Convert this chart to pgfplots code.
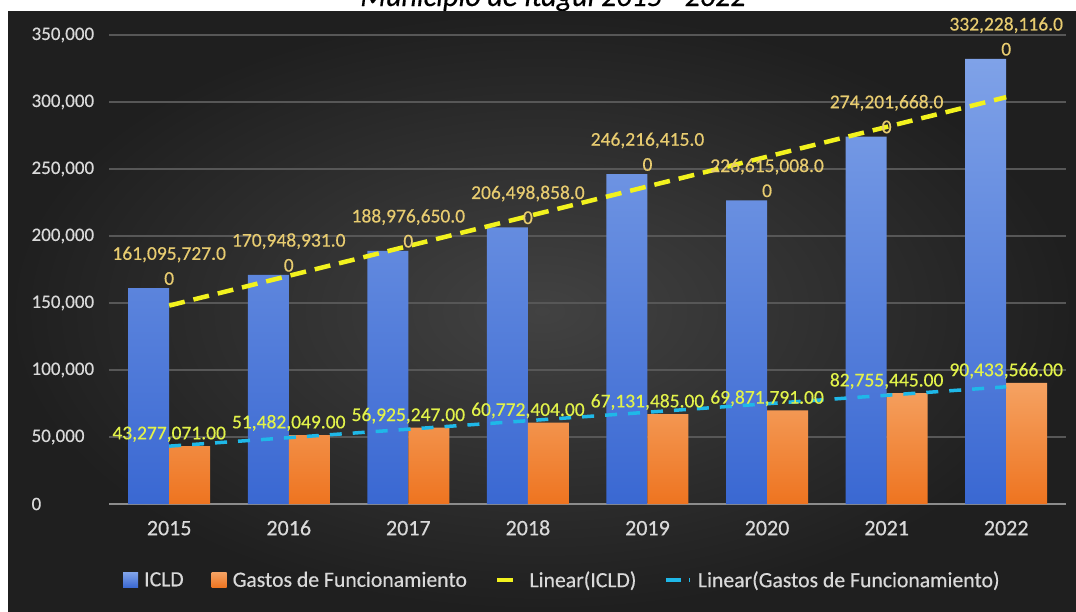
\documentclass[border=0pt]{standalone}
\usepackage{pgfplots}
\pgfplotsset{compat=1.18}
\usepackage{pgfplotstable}
\usepackage{fontspec}
\setmainfont{Carlito}[FakeBold=0.4]

\definecolor{bgin}{HTML}{424242}
\definecolor{bgout}{HTML}{1F1F1F}
\definecolor{bluetop}{HTML}{7FA2E8}
\definecolor{bluebot}{HTML}{3A68D2}
\definecolor{ortop}{HTML}{F5A262}
\definecolor{orbot}{HTML}{EE7420}
\definecolor{labgold}{HTML}{E8CC70}
\definecolor{labgreen}{HTML}{E2F24A}
\definecolor{trendy}{HTML}{F2F21E}
\definecolor{trendc}{HTML}{1FB8E8}
\definecolor{tickc}{HTML}{D9D9D9}
\definecolor{gridc}{HTML}{575757}
\definecolor{axisc}{HTML}{8C8C8C}

\pgfplotsset{
  sqlegend/.style={legend image code/.code={\path[##1] (0pt,-7.5pt) rectangle (15pt,7.5pt);}},
  lnlegend/.style={legend image code/.code={\draw[##1, solid] (0pt,0pt) -- (15pt,0pt); \path (0pt,0pt) -- (24pt,0pt);}},
}

\pgfplotstableread{
x y lab
0 161095.727 161,095,727.0
1 170948.931 170,948,931.0
2 188976.650 188,976,650.0
3 206498.858 206,498,858.0
4 246216.415 246,216,415.0
5 226615.008 226,615,008.0
6 274201.668 274,201,668.0
7 332228.116 332,228,116.0
}\icld

\pgfplotstableread{
x y lab
0 43277.071 43,277,071.00
1 51482.049 51,482,049.00
2 56925.247 56,925,247.00
3 60772.404 60,772,404.00
4 67131.485 67,131,485.00
5 69871.791 69,871,791.00
6 82755.445 82,755,445.00
7 90433.566 90,433,566.00
}\gastos

\begin{document}
\begin{tikzpicture}
\useasboundingbox (0,0) rectangle (1076pt,-611pt);
\fill[white] (0,0) rectangle (1076pt,-611pt);
\node[font=\fontsize{30}{32}\selectfont\itshape, anchor=base, text=black, inner sep=0pt] at (553pt,-6pt) {Municipio de Itagüí 2015 - 2022};
\shade[inner color=bgin, outer color=bgout] (8pt,-11pt) rectangle (1076pt,-611pt);
\begin{axis}[
  at={(109.4pt,-504pt)}, anchor=south west,
  width=956.6pt, height=469pt, scale only axis,
  xmin=-0.5, xmax=7.5, ymin=0, ymax=350000,
  clip=false,
  axis line style={draw=none},
  tick style={draw=none},
  major tick length=0pt,
  ymajorgrids, grid style={gridc, line width=1.2pt},
  ytick={0,50000,100000,150000,200000,250000,300000,350000},
  scaled y ticks=false,
  yticklabel style={/pgf/number format/fixed, /pgf/number format/precision=0,
    /pgf/number format/1000 sep={,}, /pgf/number format/assume math mode=true,
    anchor=west, inner sep=0pt, xshift=-78pt, font=\fontsize{19}{22}\selectfont, text=tickc},
  xtick={0,1,2,3,4,5,6,7},
  xticklabels={2015,2016,2017,2018,2019,2020,2021,2022},
  xticklabel style={font=\fontsize{22}{24}\selectfont, text=tickc, inner sep=0pt,
    text height=15pt, text depth=0pt, anchor=north, yshift=-16pt},
  legend columns=4,
  legend cell align=left,
  legend style={at={(0.0142,-0.162)}, anchor=west, draw=none, fill=none, text=tickc,
    font=\fontsize{21.7}{24}\selectfont, inner sep=0pt, nodes={inner sep=0pt},
    /tikz/every odd column/.append style={column sep=6pt},
    /tikz/every even column/.append style={column sep=28pt}},
]
\draw[axisc, line width=2pt] (axis cs:-0.5,0) -- (axis cs:7.5,0);

\addplot[ybar, bar width=41pt, bar shift=-20.5pt, draw=none, top color=bluetop, bottom color=bluebot, sqlegend]
  table[x=x, y=y] {\icld};
\addlegendentry{ICLD}

\addplot[ybar, bar width=41pt, bar shift=20.5pt, draw=none, top color=ortop, bottom color=orbot, sqlegend]
  table[x=x, y=y] {\gastos};
\addlegendentry{Gastos de Funcionamiento}

\addplot[trendy, line width=4.5pt, dash pattern=on 16pt off 9pt, lnlegend]
  coordinates {(0,148064) (7,303632)};
\addlegendentry{Linear(ICLD)}

\addplot[trendc, line width=3.5pt, dash pattern=on 12pt off 11pt, lnlegend]
  coordinates {(0,43179) (7,87484)};
\addlegendentry{Linear(Gastos de Funcionamiento)}

\addplot[ybar, bar width=41pt, bar shift=-20.5pt, draw=none, fill=none, forget plot,
  point meta=explicit symbolic,
  nodes near coords={\pgfplotspointmeta\\0},
  nodes near coords style={align=center, text=labgold, font=\fontsize{19.5}{25}\selectfont, inner sep=3pt}]
  table[x=x, y=y, meta=lab] {\icld};

\addplot[ybar, bar width=41pt, bar shift=20.5pt, draw=none, fill=none, forget plot,
  point meta=explicit symbolic,
  nodes near coords={\pgfplotspointmeta},
  nodes near coords style={text=labgreen, font=\fontsize{19.5}{25}\selectfont, inner sep=4pt}]
  table[x=x, y=y, meta=lab] {\gastos};
\end{axis}
\end{tikzpicture}
\end{document}
